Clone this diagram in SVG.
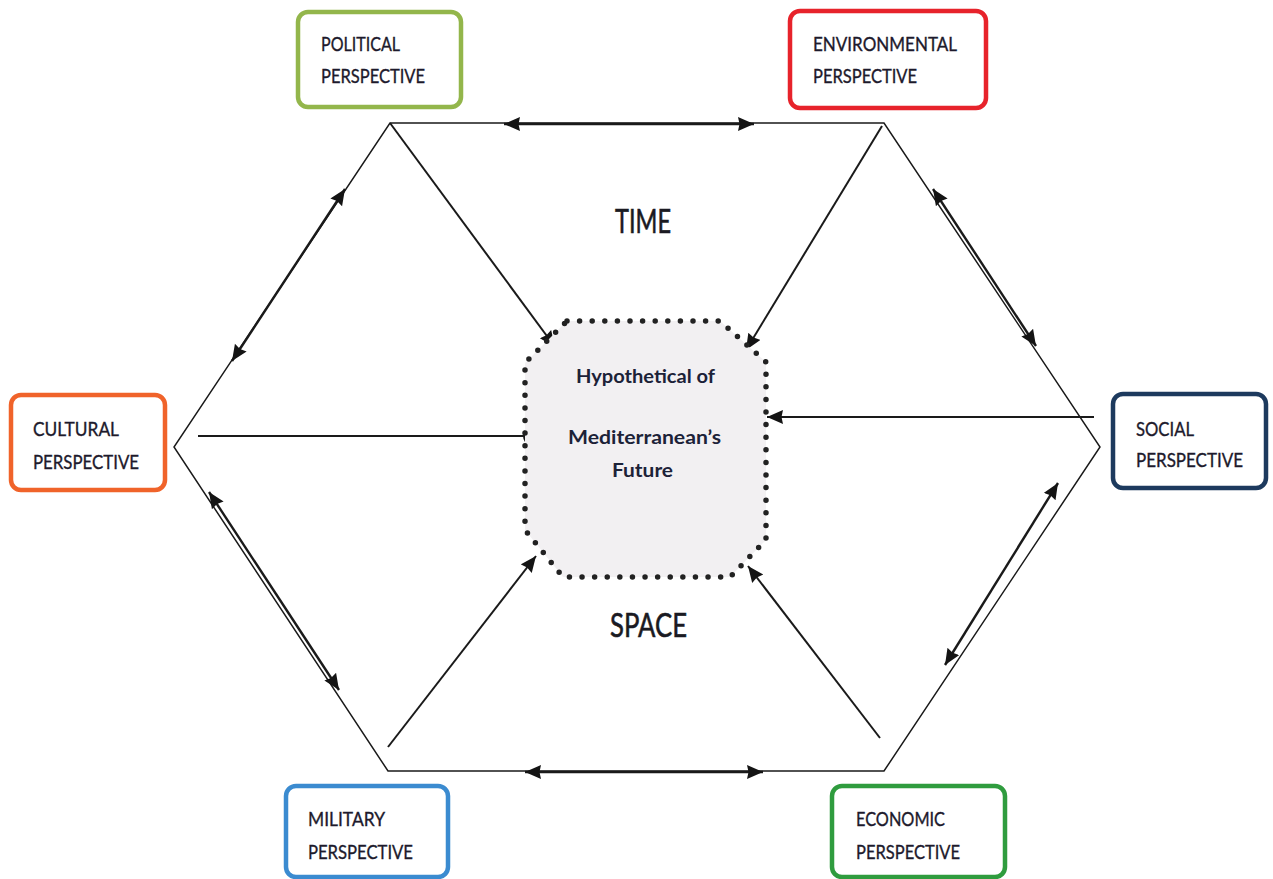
<svg xmlns="http://www.w3.org/2000/svg" width="1273" height="879" viewBox="0 0 1273 879">
  <style>
    .box { fill: #ffffff; stroke-width: 4.5; }
    .lbl { font-family: Lato, "Open Sans", "DejaVu Sans", sans-serif; font-size: 20px; fill: #1d1a2c; stroke: #1d1a2c; stroke-width: 0.35; }
    .ctr { font-family: Lato, "Open Sans", "DejaVu Sans", sans-serif; font-size: 19px; font-weight: bold; fill: #1c2238; text-anchor: middle; }
    .axis { font-family: Lato, "Open Sans", "DejaVu Sans", sans-serif; font-size: 33px; fill: #1a1a22; stroke: #1a1a22; stroke-width: 0.6; text-anchor: middle; }
    .edge { fill: none; stroke: #1a1a1a; stroke-width: 1.5; }
    .dbl { fill: none; stroke: #1a1a1a; stroke-width: 2.4; marker-start: url(#head); marker-end: url(#head); }
    .spoke { fill: none; stroke: #1a1a1a; stroke-width: 2; marker-end: url(#head); }
  </style>
  <defs>
    <marker id="head" markerUnits="userSpaceOnUse" markerWidth="18" markerHeight="16" refX="16" refY="7" orient="auto-start-reverse">
      <path d="M0,0 L16,7 L0,14 L1.5,7 z" fill="#141414"/>
    </marker>
  </defs>

  <rect width="1273" height="879" fill="#ffffff"/>

  <!-- connectors: hexagon frame, edge arrows and spokes -->
  <g id="connectors">
    <polygon class="edge" points="390,123 884,123 1100,447 884,771 388,771 174,447"/>

    <!-- double arrows along hexagon edges -->
    <line class="dbl" x1="504" y1="124" x2="754" y2="124"/>
    <line class="dbl" x1="763" y1="772" x2="525" y2="772"/>
    <line class="dbl" x1="345" y1="189" x2="232" y2="361"/>
    <line class="dbl" x1="933" y1="189" x2="1036" y2="346"/>
    <line class="dbl" x1="209" y1="492" x2="339" y2="690"/>
    <line class="dbl" x1="1058" y1="483" x2="945" y2="665"/>

    <!-- spokes towards the centre -->
    <line class="spoke" x1="390" y1="123" x2="555" y2="347"/>
    <line class="spoke" x1="882" y1="126" x2="746" y2="350"/>
    <line class="spoke" x1="1094" y1="417" x2="767" y2="417"/>
    <line class="spoke" x1="388" y1="747" x2="536" y2="556"/>
    <line class="spoke" x1="880" y1="738" x2="748" y2="566"/>
    <line class="edge" x1="198" y1="436" x2="524" y2="436" style="stroke-width:1.8"/>
    <path class="edge" d="M526,430 Q522,436 526,442" style="stroke-width:2"/>
  </g>

  <!-- central node -->
  <g id="centre">
    <polygon points="567,321 720,321 766,362 766,540 730,577 563,577 525,530 525,363" fill="#f2f0f2" stroke="#222" stroke-width="5.5" stroke-linecap="round" stroke-dasharray="0 12.6"/>
    <text class="ctr" x="645.5" y="383" textLength="139" lengthAdjust="spacingAndGlyphs">Hypothetical of</text>
    <text class="ctr" x="644.5" y="444" textLength="153" lengthAdjust="spacingAndGlyphs">Mediterranean’s</text>
    <text class="ctr" x="642.5" y="477" textLength="61" lengthAdjust="spacingAndGlyphs">Future</text>
  </g>

  <g id="time">
    <text class="axis" x="643" y="233" textLength="56" lengthAdjust="spacingAndGlyphs">TIME</text>
  </g>
  <g id="space">
    <text class="axis" x="648.5" y="637" textLength="77" lengthAdjust="spacingAndGlyphs">SPACE</text>
  </g>

  <!-- perspective nodes -->
  <g id="political">
    <rect class="box" x="298" y="12" width="163" height="95" rx="10" stroke="#93b64b"/>
    <text class="lbl" x="321" y="51" textLength="79" lengthAdjust="spacingAndGlyphs">POLITICAL</text>
    <text class="lbl" x="321" y="83" textLength="104" lengthAdjust="spacingAndGlyphs">PERSPECTIVE</text>
  </g>

  <g id="environmental">
    <rect class="box" x="790" y="11" width="196" height="97" rx="10" stroke="#e7232b"/>
    <text class="lbl" x="813" y="51" textLength="144" lengthAdjust="spacingAndGlyphs">ENVIRONMENTAL</text>
    <text class="lbl" x="813" y="83" textLength="104" lengthAdjust="spacingAndGlyphs">PERSPECTIVE</text>
  </g>

  <g id="cultural">
    <rect class="box" x="11" y="395" width="154" height="95" rx="10" stroke="#f0632a"/>
    <text class="lbl" x="33" y="436" textLength="86" lengthAdjust="spacingAndGlyphs">CULTURAL</text>
    <text class="lbl" x="33" y="469" textLength="106" lengthAdjust="spacingAndGlyphs">PERSPECTIVE</text>
  </g>

  <g id="social">
    <rect class="box" x="1113" y="394" width="153" height="94" rx="10" stroke="#1d3a5e"/>
    <text class="lbl" x="1136" y="436" textLength="58" lengthAdjust="spacingAndGlyphs">SOCIAL</text>
    <text class="lbl" x="1136" y="467" textLength="107" lengthAdjust="spacingAndGlyphs">PERSPECTIVE</text>
  </g>

  <g id="military">
    <rect class="box" x="286" y="786" width="162" height="91" rx="10" stroke="#3b8bd0"/>
    <text class="lbl" x="308" y="826" textLength="77" lengthAdjust="spacingAndGlyphs">MILITARY</text>
    <text class="lbl" x="308" y="859" textLength="105" lengthAdjust="spacingAndGlyphs">PERSPECTIVE</text>
  </g>

  <g id="economic">
    <rect class="box" x="832" y="786" width="173" height="91" rx="10" stroke="#2f9c3e"/>
    <text class="lbl" x="856" y="826" textLength="89" lengthAdjust="spacingAndGlyphs">ECONOMIC</text>
    <text class="lbl" x="856" y="859" textLength="104" lengthAdjust="spacingAndGlyphs">PERSPECTIVE</text>
  </g>
</svg>
